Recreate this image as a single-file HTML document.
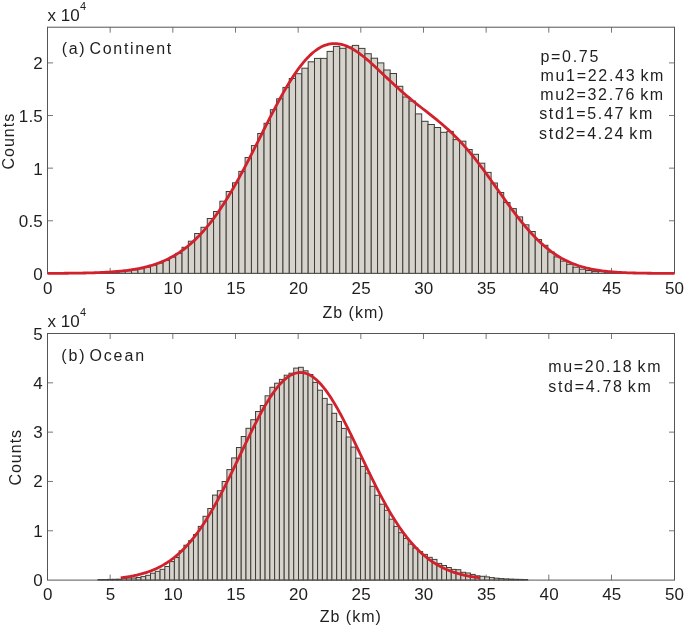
<!DOCTYPE html>
<html><head><meta charset="utf-8"><style>
html,body{margin:0;padding:0;background:#fff;}
svg{display:block;}
text{font-family:"Liberation Sans",sans-serif;}
</style></head><body>
<svg width="685" height="628" viewBox="0 0 685 628">
<rect width="685" height="628" fill="#fff"/>
<defs><clipPath id="c1"><rect x="47.5" y="27.2" width="627.0" height="248.2"/></clipPath><clipPath id="c2"><rect x="47.5" y="333.5" width="627.0" height="248.60000000000002"/></clipPath></defs>
<g stroke="#777" stroke-width="1"><line x1="110.16" y1="273.4" x2="110.16" y2="267.9"/><line x1="110.16" y1="27.2" x2="110.16" y2="32.7"/><line x1="172.83" y1="273.4" x2="172.83" y2="267.9"/><line x1="172.83" y1="27.2" x2="172.83" y2="32.7"/><line x1="235.5" y1="273.4" x2="235.5" y2="267.9"/><line x1="235.5" y1="27.2" x2="235.5" y2="32.7"/><line x1="298.16" y1="273.4" x2="298.16" y2="267.9"/><line x1="298.16" y1="27.2" x2="298.16" y2="32.7"/><line x1="360.82" y1="273.4" x2="360.82" y2="267.9"/><line x1="360.82" y1="27.2" x2="360.82" y2="32.7"/><line x1="423.49" y1="273.4" x2="423.49" y2="267.9"/><line x1="423.49" y1="27.2" x2="423.49" y2="32.7"/><line x1="486.15" y1="273.4" x2="486.15" y2="267.9"/><line x1="486.15" y1="27.2" x2="486.15" y2="32.7"/><line x1="548.82" y1="273.4" x2="548.82" y2="267.9"/><line x1="548.82" y1="27.2" x2="548.82" y2="32.7"/><line x1="611.49" y1="273.4" x2="611.49" y2="267.9"/><line x1="611.49" y1="27.2" x2="611.49" y2="32.7"/><line x1="47.5" y1="220.77" x2="53" y2="220.77"/><line x1="674.5" y1="220.77" x2="669" y2="220.77"/><line x1="47.5" y1="168.15" x2="53" y2="168.15"/><line x1="674.5" y1="168.15" x2="669" y2="168.15"/><line x1="47.5" y1="115.52" x2="53" y2="115.52"/><line x1="674.5" y1="115.52" x2="669" y2="115.52"/><line x1="47.5" y1="62.9" x2="53" y2="62.9"/><line x1="674.5" y1="62.9" x2="669" y2="62.9"/></g>
<g stroke="#777" stroke-width="1"><line x1="110.16" y1="580.1" x2="110.16" y2="574.6"/><line x1="110.16" y1="333.5" x2="110.16" y2="339"/><line x1="172.83" y1="580.1" x2="172.83" y2="574.6"/><line x1="172.83" y1="333.5" x2="172.83" y2="339"/><line x1="235.5" y1="580.1" x2="235.5" y2="574.6"/><line x1="235.5" y1="333.5" x2="235.5" y2="339"/><line x1="298.16" y1="580.1" x2="298.16" y2="574.6"/><line x1="298.16" y1="333.5" x2="298.16" y2="339"/><line x1="360.82" y1="580.1" x2="360.82" y2="574.6"/><line x1="360.82" y1="333.5" x2="360.82" y2="339"/><line x1="423.49" y1="580.1" x2="423.49" y2="574.6"/><line x1="423.49" y1="333.5" x2="423.49" y2="339"/><line x1="486.15" y1="580.1" x2="486.15" y2="574.6"/><line x1="486.15" y1="333.5" x2="486.15" y2="339"/><line x1="548.82" y1="580.1" x2="548.82" y2="574.6"/><line x1="548.82" y1="333.5" x2="548.82" y2="339"/><line x1="611.49" y1="580.1" x2="611.49" y2="574.6"/><line x1="611.49" y1="333.5" x2="611.49" y2="339"/><line x1="47.5" y1="530.78" x2="53" y2="530.78"/><line x1="674.5" y1="530.78" x2="669" y2="530.78"/><line x1="47.5" y1="481.46" x2="53" y2="481.46"/><line x1="674.5" y1="481.46" x2="669" y2="481.46"/><line x1="47.5" y1="432.14" x2="53" y2="432.14"/><line x1="674.5" y1="432.14" x2="669" y2="432.14"/><line x1="47.5" y1="382.82" x2="53" y2="382.82"/><line x1="674.5" y1="382.82" x2="669" y2="382.82"/></g>
<g fill="#d6d3cd" stroke="#403d37" stroke-width="1" clip-path="url(#c1)">
<rect x="49.6" y="273.4" width="6.31" height="0"/>
<rect x="55.91" y="273.4" width="6.31" height="0"/>
<rect x="62.21" y="273.4" width="6.31" height="0"/>
<rect x="68.52" y="273.4" width="6.31" height="0"/>
<rect x="74.83" y="273.4" width="6.31" height="0"/>
<rect x="81.14" y="273.4" width="6.31" height="0"/>
<rect x="87.44" y="273.4" width="6.31" height="0"/>
<rect x="93.75" y="273.26" width="6.31" height="0.14"/>
<rect x="100.06" y="272.99" width="6.31" height="0.41"/>
<rect x="106.36" y="272.64" width="6.31" height="0.76"/>
<rect x="112.67" y="272.19" width="6.31" height="1.21"/>
<rect x="118.98" y="271.6" width="6.31" height="1.8"/>
<rect x="125.28" y="270.84" width="6.31" height="2.56"/>
<rect x="131.59" y="269.89" width="6.31" height="3.51"/>
<rect x="137.9" y="268.69" width="6.31" height="4.71"/>
<rect x="144.21" y="267.2" width="6.31" height="6.2"/>
<rect x="150.51" y="265.36" width="6.31" height="8.04"/>
<rect x="156.82" y="263.12" width="6.31" height="10.28"/>
<rect x="163.13" y="260.41" width="6.31" height="12.99"/>
<rect x="169.43" y="257.18" width="6.31" height="16.22"/>
<rect x="175.74" y="253.35" width="6.31" height="20.05"/>
<rect x="182.05" y="247.3" width="6.31" height="26.1"/>
<rect x="188.35" y="241.2" width="6.31" height="32.2"/>
<rect x="194.66" y="233.5" width="6.31" height="39.9"/>
<rect x="200.97" y="227.3" width="6.31" height="46.1"/>
<rect x="207.28" y="218.5" width="6.31" height="54.9"/>
<rect x="213.58" y="211.5" width="6.31" height="61.9"/>
<rect x="219.89" y="201.2" width="6.31" height="72.2"/>
<rect x="226.2" y="191.5" width="6.31" height="81.9"/>
<rect x="232.5" y="182.8" width="6.31" height="90.6"/>
<rect x="238.81" y="171.4" width="6.31" height="102"/>
<rect x="245.12" y="157.5" width="6.31" height="115.9"/>
<rect x="251.42" y="145.6" width="6.31" height="127.8"/>
<rect x="257.73" y="133.5" width="6.31" height="139.9"/>
<rect x="264.04" y="123.3" width="6.31" height="150.1"/>
<rect x="270.35" y="109.7" width="6.31" height="163.7"/>
<rect x="276.65" y="98.8" width="6.31" height="174.6"/>
<rect x="282.96" y="87.4" width="6.31" height="186"/>
<rect x="289.27" y="78.5" width="6.31" height="194.9"/>
<rect x="295.57" y="73.7" width="6.31" height="199.7"/>
<rect x="301.88" y="68.2" width="6.31" height="205.2"/>
<rect x="308.19" y="61.8" width="6.31" height="211.6"/>
<rect x="314.49" y="58.4" width="6.31" height="215"/>
<rect x="320.8" y="58.4" width="6.31" height="215"/>
<rect x="327.11" y="51.4" width="6.31" height="222"/>
<rect x="333.42" y="46.4" width="6.31" height="227"/>
<rect x="339.72" y="48.3" width="6.31" height="225.1"/>
<rect x="346.03" y="47" width="6.31" height="226.4"/>
<rect x="352.34" y="45.4" width="6.31" height="228"/>
<rect x="358.64" y="48.4" width="6.31" height="225"/>
<rect x="364.95" y="53.7" width="6.31" height="219.7"/>
<rect x="371.26" y="58.2" width="6.31" height="215.2"/>
<rect x="377.56" y="62.9" width="6.31" height="210.5"/>
<rect x="383.87" y="70" width="6.31" height="203.4"/>
<rect x="390.18" y="73.5" width="6.31" height="199.9"/>
<rect x="396.49" y="86.3" width="6.31" height="187.1"/>
<rect x="402.79" y="97" width="6.31" height="176.4"/>
<rect x="409.1" y="101.1" width="6.31" height="172.3"/>
<rect x="415.41" y="113.9" width="6.31" height="159.5"/>
<rect x="421.71" y="121.3" width="6.31" height="152.1"/>
<rect x="428.02" y="124.5" width="6.31" height="148.9"/>
<rect x="434.33" y="127.5" width="6.31" height="145.9"/>
<rect x="440.63" y="132.3" width="6.31" height="141.1"/>
<rect x="446.94" y="131.4" width="6.31" height="142"/>
<rect x="453.25" y="139.6" width="6.31" height="133.8"/>
<rect x="459.56" y="141.2" width="6.31" height="132.2"/>
<rect x="465.86" y="149.5" width="6.31" height="123.9"/>
<rect x="472.17" y="154.3" width="6.31" height="119.1"/>
<rect x="478.48" y="163.2" width="6.31" height="110.2"/>
<rect x="484.78" y="172.4" width="6.31" height="101"/>
<rect x="491.09" y="183" width="6.31" height="90.4"/>
<rect x="497.4" y="192.5" width="6.31" height="80.9"/>
<rect x="503.7" y="202.5" width="6.31" height="70.9"/>
<rect x="510.01" y="208.6" width="6.31" height="64.8"/>
<rect x="516.32" y="216.9" width="6.31" height="56.5"/>
<rect x="522.62" y="224.8" width="6.31" height="48.6"/>
<rect x="528.93" y="231.5" width="6.31" height="41.9"/>
<rect x="535.24" y="239.6" width="6.31" height="33.8"/>
<rect x="541.55" y="245.3" width="6.31" height="28.1"/>
<rect x="547.85" y="252" width="6.31" height="21.4"/>
<rect x="554.16" y="256.9" width="6.31" height="16.5"/>
<rect x="560.47" y="261.1" width="6.31" height="12.3"/>
<rect x="566.77" y="264.3" width="6.31" height="9.1"/>
<rect x="573.08" y="267.2" width="6.31" height="6.2"/>
<rect x="579.39" y="269.2" width="6.31" height="4.2"/>
<rect x="585.7" y="270.5" width="6.31" height="2.9"/>
<rect x="592" y="271.6" width="6.31" height="1.8"/>
<rect x="598.31" y="271.39" width="6.31" height="2.01"/>
<rect x="604.62" y="272.12" width="6.31" height="1.28"/>
<rect x="610.92" y="272.66" width="6.31" height="0.74"/>
<rect x="617.23" y="273.06" width="6.31" height="0.34"/>
<rect x="623.54" y="273.35" width="6.31" height="0.05"/>
<rect x="629.84" y="273.4" width="6.31" height="0"/>
<rect x="636.15" y="273.4" width="6.31" height="0"/>
<rect x="642.46" y="273.4" width="6.31" height="0"/>
<rect x="648.77" y="273.4" width="6.31" height="0"/>
<rect x="655.07" y="273.4" width="6.31" height="0"/>
<rect x="661.38" y="273.4" width="6.31" height="0"/>
<rect x="667.69" y="273.4" width="6.31" height="0"/>
<rect x="673.99" y="273.4" width="0.51" height="0"/>
</g>
<g fill="#d6d3cd" stroke="#403d37" stroke-width="1" clip-path="url(#c2)">
<rect x="98" y="579.5" width="4.77" height="0.6"/>
<rect x="102.77" y="579.5" width="4.77" height="0.6"/>
<rect x="107.55" y="579.4" width="4.77" height="0.7"/>
<rect x="112.32" y="579.3" width="4.77" height="0.8"/>
<rect x="117.1" y="579.2" width="4.77" height="0.9"/>
<rect x="121.87" y="578.4" width="4.77" height="1.7"/>
<rect x="126.64" y="578" width="4.77" height="2.1"/>
<rect x="131.42" y="578" width="4.77" height="2.1"/>
<rect x="136.19" y="577.5" width="4.77" height="2.6"/>
<rect x="140.97" y="576.6" width="4.77" height="3.5"/>
<rect x="145.74" y="575.3" width="4.77" height="4.8"/>
<rect x="150.51" y="573.2" width="4.77" height="6.9"/>
<rect x="155.29" y="571.3" width="4.77" height="8.8"/>
<rect x="160.06" y="569.3" width="4.77" height="10.8"/>
<rect x="164.84" y="566.5" width="4.77" height="13.6"/>
<rect x="169.61" y="561.6" width="4.77" height="18.5"/>
<rect x="174.38" y="557.5" width="4.77" height="22.6"/>
<rect x="179.16" y="550.8" width="4.77" height="29.3"/>
<rect x="183.93" y="545.2" width="4.77" height="34.9"/>
<rect x="188.71" y="540.6" width="4.77" height="39.5"/>
<rect x="193.48" y="534.6" width="4.77" height="45.5"/>
<rect x="198.25" y="526.4" width="4.77" height="53.7"/>
<rect x="203.03" y="516.3" width="4.77" height="63.8"/>
<rect x="207.8" y="508.5" width="4.77" height="71.6"/>
<rect x="212.58" y="495.1" width="4.77" height="85"/>
<rect x="217.35" y="490.7" width="4.77" height="89.4"/>
<rect x="222.12" y="481.5" width="4.77" height="98.6"/>
<rect x="226.9" y="469.6" width="4.77" height="110.5"/>
<rect x="231.67" y="457.9" width="4.77" height="122.2"/>
<rect x="236.45" y="447.5" width="4.77" height="132.6"/>
<rect x="241.22" y="436.5" width="4.77" height="143.6"/>
<rect x="245.99" y="428.3" width="4.77" height="151.8"/>
<rect x="250.77" y="419.7" width="4.77" height="160.4"/>
<rect x="255.54" y="411.5" width="4.77" height="168.6"/>
<rect x="260.32" y="405.5" width="4.77" height="174.6"/>
<rect x="265.09" y="395.8" width="4.77" height="184.3"/>
<rect x="269.86" y="387.3" width="4.77" height="192.8"/>
<rect x="274.64" y="383.2" width="4.77" height="196.9"/>
<rect x="279.41" y="379.4" width="4.77" height="200.7"/>
<rect x="284.19" y="375.2" width="4.77" height="204.9"/>
<rect x="288.96" y="373.2" width="4.77" height="206.9"/>
<rect x="293.73" y="368.1" width="4.77" height="212"/>
<rect x="298.51" y="367.3" width="4.77" height="212.8"/>
<rect x="303.28" y="370.8" width="4.77" height="209.3"/>
<rect x="308.06" y="374.5" width="4.77" height="205.6"/>
<rect x="312.83" y="382.4" width="4.77" height="197.7"/>
<rect x="317.6" y="390.2" width="4.77" height="189.9"/>
<rect x="322.38" y="398.4" width="4.77" height="181.7"/>
<rect x="327.15" y="404.3" width="4.77" height="175.8"/>
<rect x="331.93" y="413.3" width="4.77" height="166.8"/>
<rect x="336.7" y="421.5" width="4.77" height="158.6"/>
<rect x="341.47" y="428.4" width="4.77" height="151.7"/>
<rect x="346.25" y="437" width="4.77" height="143.1"/>
<rect x="351.02" y="447.1" width="4.77" height="133"/>
<rect x="355.8" y="458.2" width="4.77" height="121.9"/>
<rect x="360.57" y="466.4" width="4.77" height="113.7"/>
<rect x="365.34" y="473.1" width="4.77" height="107"/>
<rect x="370.12" y="486.3" width="4.77" height="93.8"/>
<rect x="374.89" y="495.3" width="4.77" height="84.8"/>
<rect x="379.67" y="504.2" width="4.77" height="75.9"/>
<rect x="384.44" y="510.3" width="4.77" height="69.8"/>
<rect x="389.21" y="519.2" width="4.77" height="60.9"/>
<rect x="393.99" y="526.4" width="4.77" height="53.7"/>
<rect x="398.76" y="532.7" width="4.77" height="47.4"/>
<rect x="403.54" y="538.4" width="4.77" height="41.7"/>
<rect x="408.31" y="544.1" width="4.77" height="36"/>
<rect x="413.08" y="548" width="4.77" height="32.1"/>
<rect x="417.86" y="551.6" width="4.77" height="28.5"/>
<rect x="422.63" y="554.4" width="4.77" height="25.7"/>
<rect x="427.41" y="557.3" width="4.77" height="22.8"/>
<rect x="432.18" y="559.4" width="4.77" height="20.7"/>
<rect x="436.95" y="563.4" width="4.77" height="16.7"/>
<rect x="441.73" y="565.5" width="4.77" height="14.6"/>
<rect x="446.5" y="567.5" width="4.77" height="12.6"/>
<rect x="451.28" y="569.4" width="4.77" height="10.7"/>
<rect x="456.05" y="569.7" width="4.77" height="10.4"/>
<rect x="460.82" y="572.3" width="4.77" height="7.8"/>
<rect x="465.6" y="573" width="4.77" height="7.1"/>
<rect x="470.37" y="574.4" width="4.77" height="5.7"/>
<rect x="475.15" y="575.8" width="4.77" height="4.3"/>
<rect x="479.92" y="576.3" width="4.77" height="3.8"/>
<rect x="484.69" y="576.9" width="4.77" height="3.2"/>
<rect x="489.47" y="577.6" width="4.77" height="2.5"/>
<rect x="494.24" y="578.2" width="4.77" height="1.9"/>
<rect x="499.02" y="578.6" width="4.77" height="1.5"/>
<rect x="503.79" y="578.9" width="4.77" height="1.2"/>
<rect x="508.56" y="579.1" width="4.77" height="1"/>
<rect x="513.34" y="579.3" width="4.77" height="0.8"/>
<rect x="518.11" y="579.4" width="4.77" height="0.7"/>
<rect x="522.89" y="579.5" width="4.77" height="0.6"/>
<rect x="527.66" y="580.1" width="4.77" height="0"/>
<rect x="532.43" y="580.1" width="4.77" height="0"/>
<rect x="537.21" y="580.1" width="4.77" height="0"/>
<rect x="541.98" y="580.1" width="4.77" height="0"/>
<rect x="546.76" y="580.1" width="4.77" height="0"/>
<rect x="551.53" y="580.1" width="4.77" height="0"/>
<rect x="556.3" y="580.1" width="4.77" height="0"/>
<rect x="561.08" y="580.1" width="4.77" height="0"/>
<rect x="565.85" y="580.1" width="4.77" height="0"/>
<rect x="570.63" y="580.1" width="4.77" height="0"/>
</g>
<g fill="none" stroke="#555" stroke-width="1">
<rect x="47.5" y="27.2" width="627.0" height="246.2"/>
<rect x="47.5" y="333.5" width="627.0" height="246.6"/>
</g>
<g fill="none" stroke="#d0212c" stroke-width="2.8" stroke-linejoin="round">
<polyline points="47.50,273.35 49.07,273.35 50.64,273.34 52.21,273.33 53.79,273.33 55.36,273.32 56.93,273.31 58.50,273.30 60.07,273.30 61.64,273.29 63.21,273.28 64.79,273.26 66.36,273.25 67.93,273.24 69.50,273.22 71.07,273.21 72.64,273.19 74.21,273.17 75.79,273.15 77.36,273.13 78.93,273.10 80.50,273.08 82.07,273.05 83.64,273.02 85.21,272.99 86.79,272.95 88.36,272.92 89.93,272.88 91.50,272.83 93.07,272.79 94.64,272.74 96.21,272.68 97.79,272.63 99.36,272.56 100.93,272.50 102.50,272.43 104.07,272.35 105.64,272.27 107.21,272.18 108.79,272.09 110.36,271.99 111.93,271.88 113.50,271.77 115.07,271.65 116.64,271.52 118.21,271.38 119.79,271.23 121.36,271.08 122.93,270.91 124.50,270.73 126.07,270.55 127.64,270.35 129.21,270.14 130.79,269.91 132.36,269.68 133.93,269.42 135.50,269.16 137.07,268.88 138.64,268.58 140.21,268.26 141.79,267.93 143.36,267.58 144.93,267.21 146.50,266.82 148.07,266.41 149.64,265.97 151.21,265.52 152.79,265.04 154.36,264.53 155.93,264.00 157.50,263.45 159.07,262.87 160.64,262.25 162.21,261.61 163.79,260.94 165.36,260.24 166.93,259.51 168.50,258.74 170.07,257.94 171.64,257.10 173.21,256.22 174.79,255.31 176.36,254.36 177.93,253.37 179.50,252.34 181.07,251.27 182.64,250.16 184.21,249.00 185.79,247.80 187.36,246.56 188.93,245.27 190.50,243.93 192.07,242.55 193.64,241.11 195.21,239.63 196.79,238.10 198.36,236.52 199.93,234.89 201.50,233.21 203.07,231.47 204.64,229.69 206.21,227.85 207.79,225.96 209.36,224.01 210.93,222.02 212.50,219.97 214.07,217.87 215.64,215.72 217.21,213.51 218.79,211.25 220.36,208.95 221.93,206.59 223.50,204.18 225.07,201.72 226.64,199.22 228.21,196.66 229.79,194.06 231.36,191.42 232.93,188.73 234.50,186.00 236.07,183.23 237.64,180.41 239.21,177.57 240.79,174.68 242.36,171.76 243.93,168.82 245.50,165.84 247.07,162.83 248.64,159.80 250.21,156.75 251.79,153.68 253.36,150.59 254.93,147.49 256.50,144.38 258.07,141.26 259.64,138.13 261.21,135.00 262.79,131.88 264.36,128.75 265.93,125.64 267.50,122.54 269.07,119.45 270.64,116.38 272.21,113.33 273.79,110.31 275.36,107.31 276.93,104.35 278.50,101.42 280.07,98.53 281.64,95.69 283.21,92.89 284.79,90.14 286.36,87.44 287.93,84.80 289.50,82.22 291.07,79.70 292.64,77.24 294.21,74.86 295.79,72.55 297.36,70.31 298.93,68.14 300.50,66.06 302.07,64.06 303.64,62.14 305.21,60.31 306.79,58.57 308.36,56.92 309.93,55.36 311.50,53.90 313.07,52.52 314.64,51.25 316.21,50.07 317.79,48.99 319.36,48.00 320.93,47.12 322.50,46.33 324.07,45.64 325.64,45.05 327.21,44.56 328.79,44.17 330.36,43.87 331.93,43.66 333.50,43.56 335.07,43.54 336.64,43.61 338.21,43.78 339.79,44.03 341.36,44.36 342.93,44.78 344.50,45.28 346.07,45.86 347.64,46.51 349.21,47.24 350.79,48.03 352.36,48.89 353.93,49.81 355.50,50.80 357.07,51.84 358.64,52.93 360.21,54.07 361.79,55.26 363.36,56.50 364.93,57.77 366.50,59.08 368.07,60.42 369.64,61.79 371.21,63.18 372.79,64.60 374.36,66.04 375.93,67.49 377.50,68.96 379.07,70.44 380.64,71.92 382.21,73.41 383.79,74.90 385.36,76.40 386.93,77.88 388.50,79.37 390.07,80.85 391.64,82.32 393.21,83.78 394.79,85.23 396.36,86.66 397.93,88.08 399.50,89.49 401.07,90.89 402.64,92.27 404.21,93.63 405.79,94.98 407.36,96.32 408.93,97.63 410.50,98.94 412.07,100.23 413.64,101.51 415.21,102.78 416.79,104.04 418.36,105.28 419.93,106.52 421.50,107.76 423.07,108.99 424.64,110.22 426.21,111.45 427.79,112.67 429.36,113.91 430.93,115.14 432.50,116.39 434.07,117.64 435.64,118.90 437.21,120.18 438.79,121.48 440.36,122.79 441.93,124.12 443.50,125.47 445.07,126.84 446.64,128.24 448.21,129.66 449.79,131.11 451.36,132.59 452.93,134.10 454.50,135.64 456.07,137.22 457.64,138.82 459.21,140.46 460.79,142.13 462.36,143.84 463.93,145.58 465.50,147.36 467.07,149.17 468.64,151.01 470.21,152.89 471.79,154.79 473.36,156.73 474.93,158.70 476.50,160.70 478.07,162.73 479.64,164.78 481.21,166.86 482.79,168.96 484.36,171.08 485.93,173.23 487.50,175.38 489.07,177.56 490.64,179.74 492.21,181.94 493.79,184.15 495.36,186.36 496.93,188.57 498.50,190.79 500.07,193.00 501.64,195.21 503.21,197.42 504.79,199.61 506.36,201.79 507.93,203.96 509.50,206.12 511.07,208.25 512.64,210.37 514.21,212.46 515.79,214.53 517.36,216.57 518.93,218.58 520.50,220.56 522.07,222.52 523.64,224.43 525.21,226.31 526.79,228.16 528.36,229.96 529.93,231.73 531.50,233.46 533.07,235.15 534.64,236.79 536.21,238.40 537.79,239.96 539.36,241.47 540.93,242.94 542.50,244.37 544.07,245.76 545.64,247.10 547.21,248.39 548.79,249.64 550.36,250.85 551.93,252.01 553.50,253.13 555.07,254.21 556.64,255.25 558.21,256.24 559.79,257.19 561.36,258.11 562.93,258.98 564.50,259.82 566.07,260.61 567.64,261.37 569.21,262.10 570.79,262.79 572.36,263.45 573.93,264.07 575.50,264.66 577.07,265.22 578.64,265.76 580.21,266.26 581.79,266.74 583.36,267.19 584.93,267.61 586.50,268.01 588.07,268.39 589.64,268.74 591.21,269.07 592.79,269.39 594.36,269.68 595.93,269.95 597.50,270.21 599.07,270.45 600.64,270.68 602.21,270.89 603.79,271.08 605.36,271.26 606.93,271.43 608.50,271.59 610.07,271.74 611.64,271.87 613.21,272.00 614.79,272.12 616.36,272.22 617.93,272.32 619.50,272.42 621.07,272.50 622.64,272.58 624.21,272.65 625.79,272.72 627.36,272.78 628.93,272.84 630.50,272.89 632.07,272.93 633.64,272.98 635.21,273.02 636.79,273.05 638.36,273.09 639.93,273.12 641.50,273.14 643.07,273.17 644.64,273.19 646.21,273.21 647.79,273.23 649.36,273.25 650.93,273.26 652.50,273.28 654.07,273.29 655.64,273.30 657.21,273.31 658.79,273.32 660.36,273.33 661.93,273.34 663.50,273.34 665.07,273.35 666.64,273.36 668.21,273.36 669.79,273.36 671.36,273.37 672.93,273.37 674.50,273.38"/>
<polyline points="120.70,577.79 121.60,577.69 122.50,577.58 123.40,577.46 124.30,577.34 125.20,577.22 126.10,577.09 127.00,576.95 127.90,576.81 128.80,576.67 129.71,576.52 130.61,576.36 131.51,576.20 132.41,576.03 133.31,575.86 134.21,575.68 135.11,575.49 136.01,575.29 136.91,575.09 137.81,574.88 138.71,574.67 139.61,574.44 140.51,574.21 141.41,573.97 142.31,573.72 143.21,573.46 144.11,573.20 145.01,572.92 145.91,572.64 146.81,572.34 147.72,572.04 148.62,571.73 149.52,571.40 150.42,571.07 151.32,570.72 152.22,570.36 153.12,570.00 154.02,569.62 154.92,569.23 155.82,568.82 156.72,568.41 157.62,567.98 158.52,567.54 159.42,567.09 160.32,566.62 161.22,566.14 162.12,565.64 163.02,565.14 163.92,564.61 164.82,564.07 165.73,563.52 166.63,562.95 167.53,562.37 168.43,561.77 169.33,561.16 170.23,560.52 171.13,559.88 172.03,559.21 172.93,558.53 173.83,557.83 174.73,557.12 175.63,556.38 176.53,555.63 177.43,554.86 178.33,554.07 179.23,553.27 180.13,552.44 181.03,551.60 181.93,550.73 182.83,549.85 183.74,548.95 184.64,548.03 185.54,547.09 186.44,546.12 187.34,545.14 188.24,544.14 189.14,543.12 190.04,542.08 190.94,541.01 191.84,539.93 192.74,538.82 193.64,537.70 194.54,536.55 195.44,535.38 196.34,534.20 197.24,532.99 198.14,531.76 199.04,530.51 199.94,529.23 200.84,527.94 201.75,526.63 202.65,525.29 203.55,523.94 204.45,522.56 205.35,521.17 206.25,519.75 207.15,518.32 208.05,516.86 208.95,515.38 209.85,513.89 210.75,512.38 211.65,510.84 212.55,509.29 213.45,507.72 214.35,506.13 215.25,504.53 216.15,502.90 217.05,501.26 217.95,499.60 218.85,497.93 219.76,496.24 220.66,494.54 221.56,492.82 222.46,491.08 223.36,489.33 224.26,487.57 225.16,485.80 226.06,484.01 226.96,482.21 227.86,480.40 228.76,478.58 229.66,476.75 230.56,474.91 231.46,473.07 232.36,471.21 233.26,469.35 234.16,467.48 235.06,465.60 235.96,463.72 236.86,461.84 237.77,459.95 238.67,458.06 239.57,456.17 240.47,454.28 241.37,452.39 242.27,450.49 243.17,448.60 244.07,446.72 244.97,444.83 245.87,442.95 246.77,441.08 247.67,439.21 248.57,437.35 249.47,435.50 250.37,433.65 251.27,431.82 252.17,430.00 253.07,428.19 253.97,426.39 254.87,424.61 255.78,422.84 256.68,421.08 257.58,419.35 258.48,417.63 259.38,415.93 260.28,414.25 261.18,412.59 262.08,410.95 262.98,409.33 263.88,407.74 264.78,406.17 265.68,404.63 266.58,403.11 267.48,401.63 268.38,400.17 269.28,398.73 270.18,397.33 271.08,395.96 271.98,394.62 272.88,393.32 273.79,392.04 274.69,390.80 275.59,389.60 276.49,388.43 277.39,387.30 278.29,386.20 279.19,385.14 280.09,384.12 280.99,383.14 281.89,382.20 282.79,381.31 283.69,380.45 284.59,379.63 285.49,378.85 286.39,378.12 287.29,377.43 288.19,376.79 289.09,376.19 289.99,375.63 290.89,375.12 291.80,374.65 292.70,374.23 293.60,373.85 294.50,373.52 295.40,373.24 296.30,373.00 297.20,372.81 298.10,372.67 299.00,372.57 299.90,372.52 300.80,372.52 301.70,372.56 302.60,372.65 303.50,372.79 304.40,372.97 305.30,373.20 306.20,373.48 307.10,373.80 308.00,374.17 308.90,374.59 309.81,375.05 310.71,375.55 311.61,376.10 312.51,376.70 313.41,377.34 314.31,378.02 315.21,378.74 316.11,379.51 317.01,380.32 317.91,381.18 318.81,382.07 319.71,383.00 320.61,383.98 321.51,384.99 322.41,386.04 323.31,387.13 324.21,388.26 325.11,389.42 326.01,390.62 326.91,391.86 327.82,393.13 328.72,394.43 329.62,395.76 330.52,397.13 331.42,398.53 332.32,399.95 333.22,401.41 334.12,402.90 335.02,404.41 335.92,405.95 336.82,407.51 337.72,409.10 338.62,410.71 339.52,412.35 340.42,414.00 341.32,415.68 342.22,417.38 343.12,419.09 344.02,420.83 344.92,422.58 345.83,424.35 346.73,426.13 347.63,427.92 348.53,429.73 349.43,431.55 350.33,433.39 351.23,435.23 352.13,437.08 353.03,438.94 353.93,440.81 354.83,442.68 355.73,444.56 356.63,446.44 357.53,448.33 358.43,450.22 359.33,452.11 360.23,454.00 361.13,455.89 362.03,457.79 362.93,459.68 363.84,461.56 364.74,463.45 365.64,465.33 366.54,467.20 367.44,469.07 368.34,470.94 369.24,472.79 370.14,474.64 371.04,476.48 371.94,478.32 372.84,480.14 373.74,481.95 374.64,483.75 375.54,485.54 376.44,487.31 377.34,489.08 378.24,490.83 379.14,492.56 380.04,494.29 380.94,495.99 381.85,497.68 382.75,499.36 383.65,501.02 384.55,502.66 385.45,504.29 386.35,505.90 387.25,507.49 388.15,509.06 389.05,510.62 389.95,512.15 390.85,513.67 391.75,515.17 392.65,516.64 393.55,518.10 394.45,519.54 395.35,520.96 396.25,522.36 397.15,523.74 398.05,525.10 398.95,526.43 399.86,527.75 400.76,529.05 401.66,530.32 402.56,531.57 403.46,532.81 404.36,534.02 405.26,535.21 406.16,536.38 407.06,537.53 407.96,538.66 408.86,539.77 409.76,540.85 410.66,541.92 411.56,542.97 412.46,543.99 413.36,545.00 414.26,545.98 415.16,546.95 416.06,547.89 416.96,548.82 417.87,549.72 418.77,550.61 419.67,551.47 420.57,552.32 421.47,553.15 422.37,553.96 423.27,554.75 424.17,555.52 425.07,556.27 425.97,557.01 426.87,557.73 427.77,558.43 428.67,559.11 429.57,559.78 430.47,560.43 431.37,561.06 432.27,561.68 433.17,562.28 434.07,562.87 434.97,563.44 435.88,563.99 436.78,564.53 437.68,565.06 438.58,565.57 439.48,566.07 440.38,566.55 441.28,567.02 442.18,567.47 443.08,567.92 443.98,568.35 444.88,568.76 445.78,569.17 446.68,569.56 447.58,569.94 448.48,570.31 449.38,570.67 450.28,571.02 451.18,571.35 452.08,571.68 452.98,571.99 453.89,572.30 454.79,572.59 455.69,572.88 456.59,573.16 457.49,573.42 458.39,573.68 459.29,573.93 460.19,574.18 461.09,574.41 461.99,574.63 462.89,574.85 463.79,575.06 464.69,575.26 465.59,575.46 466.49,575.65 467.39,575.83 468.29,576.01 469.19,576.18 470.09,576.34 470.99,576.50 471.90,576.65 472.80,576.79 473.70,576.93 474.60,577.07 475.50,577.20 476.40,577.32 477.30,577.44 478.20,577.56 479.10,577.67 480.00,577.78"/>
</g>
<g font-family="Liberation Sans, sans-serif" fill="#1e1e1e" opacity="0.999">
<text x="47.6" y="20.6" font-size="17" letter-spacing="0" text-anchor="start" >x 10</text>
<text x="79.9" y="9.7" font-size="11" letter-spacing="0" text-anchor="start" >4</text>
<text x="47.6" y="327.1" font-size="17" letter-spacing="0" text-anchor="start" >x 10</text>
<text x="79.9" y="316.2" font-size="11" letter-spacing="0" text-anchor="start" >4</text>
<text x="61.69" y="53.8" font-size="16" letter-spacing="1.65" word-spacing="-2.70">(a) Continent</text>
<text x="61.28" y="360.9" font-size="16" letter-spacing="1.87" word-spacing="-3.32">(b) Ocean</text>
<text x="540.44" y="61.5" font-size="16" letter-spacing="1.70" word-spacing="-2.00">p=0.75</text>
<text x="540.46" y="80.8" font-size="16" letter-spacing="1.70" word-spacing="-2.00">mu1=22.43 km</text>
<text x="540.23" y="100.1" font-size="16" letter-spacing="1.70" word-spacing="-2.00">mu2=32.76 km</text>
<text x="539.15" y="119.4" font-size="16" letter-spacing="1.70" word-spacing="-2.00">std1=5.47 km</text>
<text x="539.08" y="138.7" font-size="16" letter-spacing="1.70" word-spacing="-2.00">std2=4.24 km</text>
<text x="548.16" y="372.2" font-size="16" letter-spacing="1.70" word-spacing="-2.00">mu=20.18 km</text>
<text x="548.23" y="391.7" font-size="16" letter-spacing="1.70" word-spacing="-2.00">std=4.78 km</text>
<text x="43" y="279.9" font-size="17" letter-spacing="0.2" text-anchor="end" >0</text>
<text x="43" y="227.27" font-size="17" letter-spacing="0.2" text-anchor="end" >0.5</text>
<text x="43" y="174.65" font-size="17" letter-spacing="0.2" text-anchor="end" >1</text>
<text x="43" y="122.02" font-size="17" letter-spacing="0.2" text-anchor="end" >1.5</text>
<text x="43" y="69.4" font-size="17" letter-spacing="0.2" text-anchor="end" >2</text>
<text x="43" y="586.1" font-size="17" letter-spacing="0.2" text-anchor="end" >0</text>
<text x="43" y="536.78" font-size="17" letter-spacing="0.2" text-anchor="end" >1</text>
<text x="43" y="487.46" font-size="17" letter-spacing="0.2" text-anchor="end" >2</text>
<text x="43" y="438.14" font-size="17" letter-spacing="0.2" text-anchor="end" >3</text>
<text x="43" y="388.82" font-size="17" letter-spacing="0.2" text-anchor="end" >4</text>
<text x="43" y="339.5" font-size="17" letter-spacing="0.2" text-anchor="end" >5</text>
<text x="47.9" y="293.6" font-size="17" letter-spacing="0.2" text-anchor="middle" >0</text>
<text x="47.9" y="599.9" font-size="17" letter-spacing="0.2" text-anchor="middle" >0</text>
<text x="110.56" y="293.6" font-size="17" letter-spacing="0.2" text-anchor="middle" >5</text>
<text x="110.56" y="599.9" font-size="17" letter-spacing="0.2" text-anchor="middle" >5</text>
<text x="173.23" y="293.6" font-size="17" letter-spacing="0.2" text-anchor="middle" >10</text>
<text x="173.23" y="599.9" font-size="17" letter-spacing="0.2" text-anchor="middle" >10</text>
<text x="235.9" y="293.6" font-size="17" letter-spacing="0.2" text-anchor="middle" >15</text>
<text x="235.9" y="599.9" font-size="17" letter-spacing="0.2" text-anchor="middle" >15</text>
<text x="298.56" y="293.6" font-size="17" letter-spacing="0.2" text-anchor="middle" >20</text>
<text x="298.56" y="599.9" font-size="17" letter-spacing="0.2" text-anchor="middle" >20</text>
<text x="361.22" y="293.6" font-size="17" letter-spacing="0.2" text-anchor="middle" >25</text>
<text x="361.22" y="599.9" font-size="17" letter-spacing="0.2" text-anchor="middle" >25</text>
<text x="423.89" y="293.6" font-size="17" letter-spacing="0.2" text-anchor="middle" >30</text>
<text x="423.89" y="599.9" font-size="17" letter-spacing="0.2" text-anchor="middle" >30</text>
<text x="486.55" y="293.6" font-size="17" letter-spacing="0.2" text-anchor="middle" >35</text>
<text x="486.55" y="599.9" font-size="17" letter-spacing="0.2" text-anchor="middle" >35</text>
<text x="549.22" y="293.6" font-size="17" letter-spacing="0.2" text-anchor="middle" >40</text>
<text x="549.22" y="599.9" font-size="17" letter-spacing="0.2" text-anchor="middle" >40</text>
<text x="611.88" y="293.6" font-size="17" letter-spacing="0.2" text-anchor="middle" >45</text>
<text x="611.88" y="599.9" font-size="17" letter-spacing="0.2" text-anchor="middle" >45</text>
<text x="674.55" y="293.6" font-size="17" letter-spacing="0.2" text-anchor="middle" >50</text>
<text x="674.55" y="599.9" font-size="17" letter-spacing="0.2" text-anchor="middle" >50</text>
<text x="322.5" y="317.9" font-size="16" letter-spacing="1" text-anchor="start" >Zb (km)</text>
<text x="319.7" y="621.9" font-size="16" letter-spacing="1" text-anchor="start" >Zb (km)</text>
<text x="0" y="0" font-size="16" letter-spacing="1" text-anchor="start" transform="translate(14.4,169.5) rotate(-90)">Counts</text>
<text x="0" y="0" font-size="16" letter-spacing="1" text-anchor="start" transform="translate(20.6,485.6) rotate(-90)">Counts</text>
</g>
</svg>
</body></html>
